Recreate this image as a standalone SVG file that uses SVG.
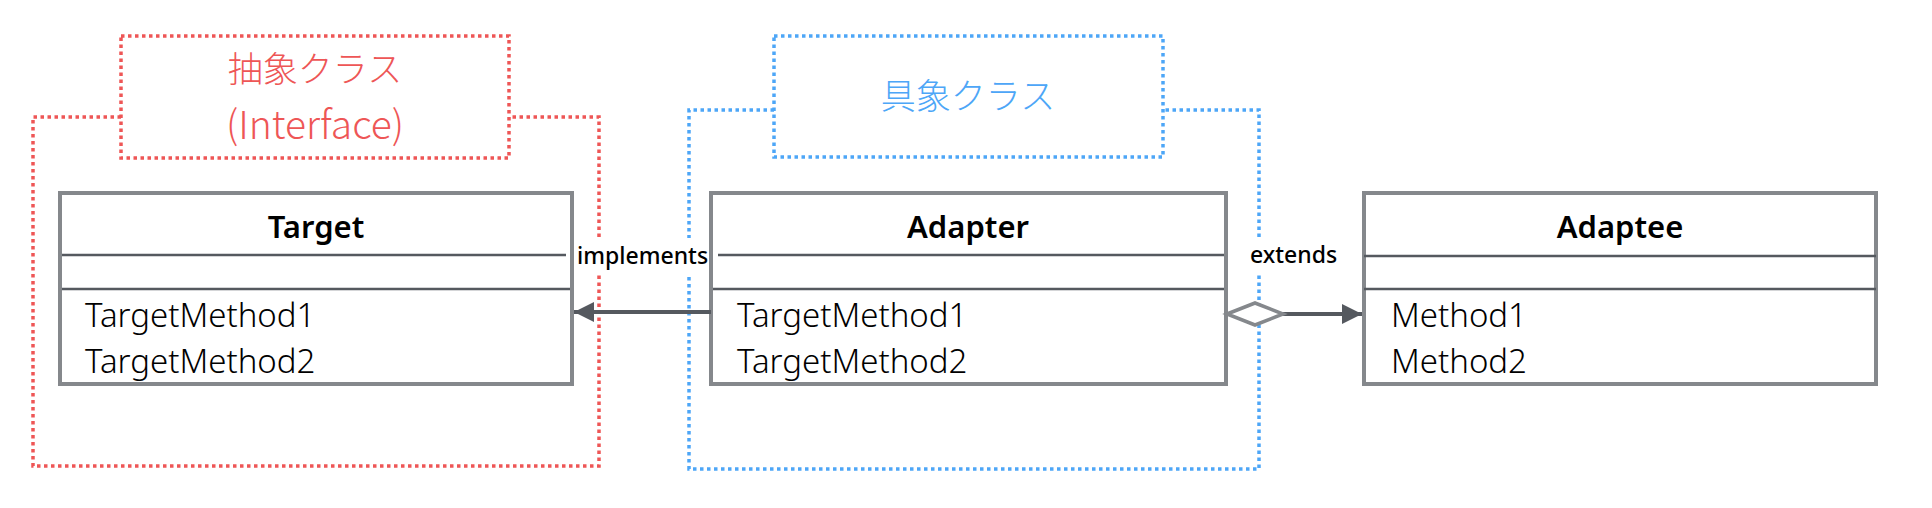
<svg xmlns="http://www.w3.org/2000/svg" width="1932" height="508" viewBox="0 0 1932 508">
<style>
.red{fill:none;stroke:#ee5656;stroke-width:3.5;stroke-dasharray:3.5 3.5}
.blue{fill:none;stroke:#4da6f7;stroke-width:3.5;stroke-dasharray:3.5 3.5}
.box{fill:#fff;stroke:#85888c;stroke-width:4}
.sep{stroke:#55595f;stroke-width:2.5}
.title{font-family:"Noto Sans","Noto Sans CJK JP",sans-serif;font-weight:600;font-size:31px;fill:#000;text-anchor:middle}
.m{font-family:"Noto Sans","Noto Sans CJK JP",sans-serif;font-weight:300;font-size:33px;fill:#000}
.lbl{font-family:"Noto Sans","Noto Sans CJK JP",sans-serif;font-weight:500;font-size:23px;fill:#000}
.jp{font-family:"Noto Sans CJK JP",sans-serif;font-weight:300;font-size:35px;text-anchor:middle}
.conn{stroke:#55595f;stroke-width:4;fill:none}
</style>
<defs>
<marker id="ah" viewBox="0 0 10 10" refX="10" refY="5" markerWidth="5.5" markerHeight="5" markerUnits="strokeWidth" orient="auto"><path d="M0,0L10,5L0,10z" fill="#55595f"/></marker>
</defs>
<g id="group-abstract">
<path class="red" d="M121,117H33V466H599V117H509"/>
<rect class="red" x="121" y="36" width="388" height="122" fill="#fff"/>
<text class="jp" x="315" y="82" fill="#ee5656">抽象クラス</text>
<text class="jp" x="315" y="139" fill="#ee5656" style="font-size:39px">(Interface)</text>
</g>
<g id="group-concrete">
<path class="blue" d="M774,110H689V469H1259V110H1163"/>
<rect class="blue" x="774" y="36" width="389" height="121" fill="#fff"/>
<text class="jp" x="968" y="109" fill="#4da6f7">具象クラス</text>
</g>
<g id="target">
<rect class="box" x="60" y="193" width="512" height="191"/>
<line class="sep" x1="62" y1="255" x2="566" y2="255"/>
<line class="sep" x1="62" y1="289" x2="570" y2="289"/>
<text class="title" x="316" y="238">Target</text>
<text class="m" x="85" y="327">TargetMethod1</text>
<text class="m" x="85" y="373">TargetMethod2</text>
</g>
<g id="adapter">
<rect class="box" x="711" y="193" width="515" height="191"/>
<line class="sep" x1="718" y1="255" x2="1224" y2="255"/>
<line class="sep" x1="713" y1="289" x2="1224" y2="289"/>
<text class="title" x="968" y="238">Adapter</text>
<text class="m" x="737" y="327">TargetMethod1</text>
<text class="m" x="737" y="373">TargetMethod2</text>
</g>
<g id="adaptee">
<rect class="box" x="1364" y="193" width="512" height="191"/>
<line class="sep" x1="1364" y1="256" x2="1876" y2="256"/>
<line class="sep" x1="1364" y1="289" x2="1876" y2="289"/>
<text class="title" x="1620" y="238">Adaptee</text>
<text class="m" x="1391" y="327">Method1</text>
<text class="m" x="1391" y="373">Method2</text>
</g>
<g id="connectors">
<line class="conn" x1="711" y1="312" x2="574" y2="312" marker-end="url(#ah)"/>
<rect x="575" y="238" width="134" height="36" fill="#fff"/>
<text class="lbl" x="577" y="264">implements</text>
<line class="conn" x1="1283" y1="314" x2="1362" y2="314" marker-end="url(#ah)"/>
<path d="M1227,314L1255,303L1283,314L1255,325z" fill="#fff" stroke="#85888c" stroke-width="3.5"/>
<rect x="1248" y="238" width="94" height="36" fill="#fff"/>
<text class="lbl" x="1250" y="263">extends</text>
</g>
</svg>
